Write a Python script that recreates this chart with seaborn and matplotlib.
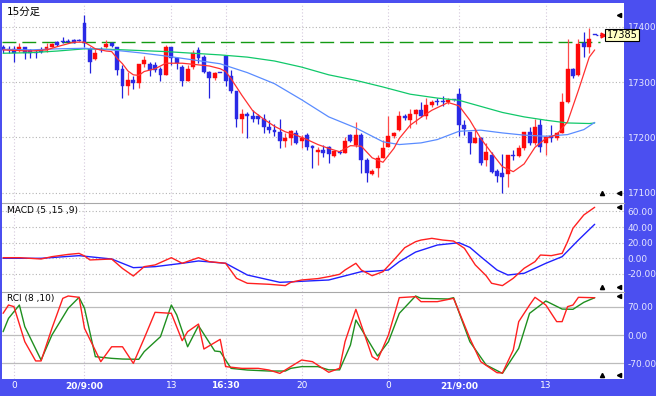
import matplotlib
matplotlib.use("Agg")
import numpy as np
import pandas as pd
import matplotlib.pyplot as plt
import seaborn as sns

# ---- 15分足 OHLC (bar index 0..109) ----
opens = [17363, 17360, 17359, 17358, 17363, 17357, 17355, 17358, 17357, 17363,
         17372, 17375, 17375, 17376, 17375, 17407, 17360, 17341, 17360, 17363,
         17370, 17363, 17323, 17293, 17304, 17298, 17333, 17333, 17330, 17323,
         17313, 17363, 17343, 17327, 17302, 17328, 17358, 17346, 17318, 17308,
         17317, 17347, 17310, 17283, 17233, 17243, 17239, 17238, 17233, 17218,
         17213, 17209, 17194, 17199, 17208, 17194, 17204, 17184, 17174, 17178,
         17183, 17167, 17174, 17172, 17204, 17186, 17204, 17159, 17134, 17144,
         17162, 17183, 17202, 17213, 17239, 17232, 17243, 17249, 17239, 17258,
         17265, 17266, 17263, 17267, 17278, 17223, 17209, 17189, 17198, 17159,
         17168, 17139, 17136, 17134, 17168, 17166, 17180, 17209, 17189, 17223,
         17189, 17202, 17199, 17208, 17264, 17323, 17313, 17371, 17363, 17385]
highs = [17367, 17365, 17365, 17371, 17364, 17359, 17358, 17363, 17370, 17371,
         17375, 17382, 17377, 17377, 17377, 17421, 17364, 17360, 17363, 17376,
         17373, 17363, 17331, 17319, 17310, 17333, 17347, 17337, 17337, 17328,
         17367, 17364, 17346, 17331, 17331, 17358, 17363, 17349, 17320, 17318,
         17317, 17349, 17322, 17284, 17252, 17245, 17249, 17243, 17243, 17231,
         17225, 17234, 17207, 17213, 17213, 17204, 17207, 17186, 17183, 17186,
         17184, 17177, 17177, 17201, 17206, 17228, 17207, 17162, 17142, 17168,
         17195, 17239, 17210, 17248, 17243, 17252, 17252, 17264, 17272, 17267,
         17272, 17275, 17272, 17268, 17289, 17231, 17210, 17216, 17201, 17189,
         17174, 17142, 17170, 17168, 17177, 17186, 17210, 17219, 17234, 17234,
         17204, 17222, 17210, 17280, 17377, 17325, 17377, 17391, 17397, 17385]
lows = [17352, 17352, 17337, 17355, 17341, 17343, 17343, 17352, 17355, 17363,
        17366, 17370, 17370, 17370, 17374, 17364, 17317, 17339, 17355, 17361,
        17364, 17313, 17272, 17277, 17287, 17289, 17327, 17310, 17318, 17302,
        17313, 17331, 17323, 17293, 17302, 17323, 17334, 17316, 17272, 17304,
        17317, 17293, 17280, 17218, 17208, 17198, 17228, 17224, 17207, 17207,
        17202, 17180, 17183, 17186, 17188, 17180, 17177, 17144, 17150, 17165,
        17153, 17165, 17170, 17172, 17192, 17183, 17135, 17120, 17132, 17129,
        17162, 17182, 17198, 17212, 17231, 17216, 17225, 17237, 17234, 17255,
        17258, 17257, 17260, 17266, 17202, 17204, 17170, 17189, 17150, 17149,
        17135, 17120, 17099, 17110, 17159, 17165, 17178, 17186, 17186, 17174,
        17169, 17192, 17195, 17207, 17262, 17307, 17310, 17346, 17352, 17385]
closes = [17357, 17357, 17353, 17363, 17353, 17353, 17352, 17354, 17363, 17369,
          17367, 17372, 17372, 17371, 17375, 17370, 17337, 17353, 17357, 17368,
          17366, 17322, 17293, 17304, 17299, 17333, 17339, 17322, 17322, 17313,
          17363, 17343, 17334, 17302, 17323, 17352, 17343, 17319, 17308, 17317,
          17317, 17302, 17283, 17233, 17243, 17239, 17233, 17234, 17218, 17213,
          17209, 17194, 17199, 17212, 17189, 17199, 17183, 17180, 17178, 17172,
          17170, 17176, 17171, 17194, 17194, 17204, 17159, 17135, 17140, 17162,
          17180, 17202, 17208, 17239, 17235, 17243, 17249, 17239, 17258, 17263,
          17263, 17264, 17267, 17267, 17222, 17215, 17189, 17199, 17153, 17174,
          17138, 17130, 17129, 17168, 17166, 17180, 17209, 17189, 17219, 17183,
          17201, 17199, 17208, 17263, 17323, 17311, 17369, 17363, 17377, 17385]

ref_price = 17372
last_price = 17385

# time axis
tick_idx = [2, 15, 31, 41, 55, 71, 84, 100]
tick_lab = ["0", "20/9:00", "13", "16:30", "20", "0", "21/9:00", "13"]
bold_lab = ["20/9:00", "16:30", "21/9:00"]

# moving averages (short / middle / long)
ma_s_idx = [0, 5, 8, 10, 13, 15, 17, 19, 20, 21, 22, 23, 24, 25, 26, 28, 30, 33, 36, 38,
            40, 41, 42, 44, 46, 48, 50, 52, 54, 56, 58, 60, 62, 64, 66, 68, 70, 72,
            73, 75, 77, 79, 82, 84, 86, 88, 90, 92, 94, 96, 98, 100, 102, 104, 106,
            108, 109]
ma_s_val = [17358, 17356, 17358, 17364, 17372, 17372, 17360, 17356, 17355, 17343,
            17333, 17320, 17313, 17312, 17319, 17324, 17334, 17334, 17331, 17329,
            17324, 17319, 17306, 17276, 17248, 17233, 17220, 17210, 17204, 17196,
            17187, 17180, 17174, 17185, 17184, 17163, 17155, 17180, 17198, 17222,
            17236, 17249, 17263, 17257, 17231, 17198, 17172, 17147, 17138, 17152,
            17182, 17198, 17205, 17228, 17285, 17345, 17358]
ma_m_idx = [0, 5, 10, 15, 20, 25, 30, 35, 40, 45, 50, 55, 60, 65, 70, 73, 77, 80,
            84, 88, 92, 96, 100, 104, 107, 109]
ma_m_val = [17359, 17358, 17360, 17361, 17358, 17353, 17347, 17340, 17333, 17317,
            17297, 17268, 17237, 17217, 17192, 17187, 17190, 17196, 17211, 17213,
            17208, 17204, 17202, 17205, 17214, 17227]
ma_l_idx = [0, 5, 10, 15, 20, 25, 30, 35, 40, 45, 50, 55, 60, 65, 70, 75, 80, 84,
            88, 92, 96, 100, 104, 108, 109]
ma_l_val = [17352, 17353, 17356, 17360, 17359, 17357, 17355, 17352, 17349, 17345,
            17338, 17327, 17313, 17303, 17291, 17278, 17271, 17267, 17256, 17245,
            17237, 17231, 17226, 17225, 17226]

# MACD (5,15,9)
macd_idx = [0, 3, 7, 9, 12, 14, 15, 16, 18, 20, 22, 24, 26, 28, 31, 33, 36, 38, 41,
            43, 45, 49, 52, 53, 55, 58, 60, 62, 63, 65, 66, 68, 70, 72, 74, 76, 77,
            79, 81, 83, 85, 87, 89, 90, 92, 94, 96, 98, 99, 101, 103, 104, 105, 107,
            109]
macd_val = [0.8, 0.8, -0.9, 2.1, 5.0, 6.3, 3.0, -2.1, -1.5, -0.9, -13, -22.7, -10.7,
            -8.5, 0.8, -6.4, 0.8, -4.3, -6.4, -25.6, -32, -33.3, -35, -30.8, -27.8,
            -26, -23.5, -20.5, -15, -6.4, -15, -22.3, -17.1, -2.1, 13.6, 21.3, 23.4,
            25.6, 23.4, 22.1, 12.8, -8.5, -22.3, -32, -35, -25.6, -12.8, -4.3, 4.2,
            3.4, 6.3, 21.3, 38.5, 55.6, 65.4]
sig_idx = [0, 7, 14, 20, 24, 28, 33, 36, 41, 45, 51, 60, 66, 68, 71, 73, 76, 80,
           84, 86, 88, 91, 93, 96, 100, 103, 106, 109]
sig_val = [0, 0, 3.4, -0.9, -12, -10.7, -6.4, -3.4, -6.4, -21.4, -30.8, -27.8,
           -17.1, -16.7, -15, -4.3, 8.0, 17, 20, 14, 2.1, -15, -21.4, -19.2, -6.4,
           2.1, 23.4, 43.6]

# RCI (8,10)
rci_s_idx = [0, 1, 2, 4, 6, 7, 9, 11, 12, 14, 15, 18, 20, 22, 24, 26, 28, 31, 33,
             34, 36, 37, 40, 41, 44, 47, 49, 51, 53, 55, 57, 60, 62, 63, 65, 68, 69,
             71, 73, 76, 77, 80, 83, 86, 88, 91, 92, 94, 95, 97, 98, 100, 102, 103,
             104, 105, 106, 109]
rci_s_val = [53.5, 74, 70, -16.5, -64, -64, 16.5, 90.5, 96.3, 93, 16.5, -65.8, -29,
             -29, -70, -8.2, 56, 53.5, -14, 8.2, 27, -34.6, -10.7, -78, -82.3, -82.3,
             -86.4, -94.7, -78, -61.7, -65.8, -92, -82, -16.5, 63.4, -53.5, -61.7, 0,
             92.2, 94.7, 82.3, 82.3, 90.5, -8.2, -65.8, -93, -93.8, -37, 32.9, 74,
             93, 74, 33, 33, 70, 74, 93, 92]
rci_l_idx = [0, 1, 3, 4, 7, 9, 12, 14, 15, 17, 20, 22, 25, 26, 29, 31, 32, 34, 36,
             39, 40, 42, 45, 49, 52, 53, 55, 58, 60, 62, 64, 65, 69, 71, 73, 76, 77,
             82, 83, 86, 89, 92, 95, 97, 100, 103, 105, 107, 108, 109]
rci_l_val = [8.2, 41, 74, 20.6, -61.7, 0, 66, 93, 66, -53.5, -57.6, -59.3, -60, -41,
             -4.1, 74, 49.4, -29, 23, -39.5, -41, -82.3, -86.4, -88.9, -88.9, -82.3,
             -78, -78, -86, -86, -24.7, 37, -52, -16.5, 53.5, 96.3, 90.5, 88.9, 92.2,
             -16.5, -74, -94.7, -33, 53.5, 84, 64, 63.4, 80.7, 86.4, 92]

# ---- style ----
sns.set_style("white")
plt.rcParams['font.family'] = ['DejaVu Sans', 'Noto Sans CJK JP']

frame_blue = '#4b4ff0'
axis_txt = '#e6e6ff'
dot = (0, (1, 2))

fig = plt.figure(figsize=(6.56, 3.96), dpi=100, facecolor=frame_blue)
left, width = 2 / 656, 622 / 656
ax_p = fig.add_axes([left, 0.4866, width, 0.5058])
ax_m = fig.add_axes([left, 0.2634, width, 0.2232], sharex=ax_p)
ax_r = fig.add_axes([left, 0.0429, width, 0.2205], sharex=ax_p)

for ax in (ax_p, ax_m, ax_r):
    ax.set_facecolor('white')
    for s in ax.spines.values():
        s.set_visible(False)
    ax.yaxis.tick_right()
    ax.tick_params(axis='y', length=0, pad=2.5, labelsize=6.5, labelcolor=axis_txt)
    ax.tick_params(axis='x', length=0, labelbottom=False)
    for t in tick_idx:
        ax.axvline(t, color='#d4c8dc', lw=0.8, ls=dot, zorder=0)
for ax in (ax_m, ax_r):
    ax.spines['top'].set_visible(True)
    ax.spines['top'].set_color('#a8a8a8')
    ax.spines['top'].set_linewidth(0.8)

ax_p.set_xlim(-0.2, 114.4)

# ---- price panel ----
df = pd.DataFrame({'o': opens, 'h': highs, 'l': lows, 'c': closes})
df['i'] = np.arange(len(df))
up = df['c'] > df['o']
body_col = np.where(up, '#ff0a0a', '#2a2ae6')
wick_col = np.where(up, '#ff4a4a', '#2222dd')
body_lo = np.minimum(df['o'], df['c'])
body_h = np.maximum((df['c'] - df['o']).abs(), 1.8)

for p in [17100, 17200, 17300, 17400]:
    ax_p.axhline(p, color='#b4b4b4', lw=0.8, ls=dot, zorder=0)
ax_p.axhline(ref_price, xmin=0, xmax=0.962, color='#149a14', lw=1.0,
             ls=(0, (10, 4.3)), zorder=1)

ax_p.vlines(df['i'], df['l'], df['h'], colors=wick_col, lw=0.9, zorder=2)
ax_p.bar(df['i'], body_h, bottom=body_lo, width=0.72, color=body_col,
         edgecolor=body_col, linewidth=0.3, zorder=3)

sns.lineplot(x=ma_l_idx, y=ma_l_val, ax=ax_p, color='#10c86a', lw=0.9, zorder=4)
sns.lineplot(x=ma_m_idx, y=ma_m_val, ax=ax_p, color='#5a8cff', lw=0.9, zorder=4)
sns.lineplot(x=ma_s_idx, y=ma_s_val, ax=ax_p, color='#ff3030', lw=0.9, zorder=5)

ax_p.set_ylim(17080.8, 17442.8)
ax_p.set_yticks([17100, 17200, 17300, 17400])
ax_p.set_yticklabels(['17100', '17200', '17300', '17400'])

# last price marker and box
ax_p.plot([109.3, 110.1], [last_price, last_price], color='#2222dd', lw=0.9,
          ls=(0, (1.5, 1.2)), zorder=5)
ax_p.plot([110.6], [last_price], marker='>', color='#ff1010', ms=3.5, zorder=6,
          clip_on=False)
ax_p.text(111.2, last_price, str(last_price), fontsize=7, color='black',
          va='center', ha='left', zorder=7, clip_on=False,
          bbox=dict(boxstyle='square,pad=0.12', fc='#ffffc4', ec='black', lw=0.8))

# ---- MACD panel ----
for v in [-20, 0, 20, 40, 60]:
    ax_m.axhline(v, color='#b4b4b4', lw=0.8, ls=dot, zorder=0)
sns.lineplot(x=sig_idx, y=sig_val, ax=ax_m, color='#2020ff', lw=1.0)
sns.lineplot(x=macd_idx, y=macd_val, ax=ax_m, color='#ff2020', lw=1.0)
ax_m.set_ylim(-42.8, 70.5)
ax_m.set_yticks([-20, 0, 20, 40, 60])
ax_m.set_yticklabels(['-20.00', '0.00', '20.00', '40.00', '60.00'])

# ---- RCI panel ----
for v in [-70, 0, 70]:
    ax_r.axhline(v, color='#bcbcbc', lw=0.9, zorder=0)
sns.lineplot(x=rci_l_idx, y=rci_l_val, ax=ax_r, color='#1f8f1f', lw=1.0)
sns.lineplot(x=rci_s_idx, y=rci_s_val, ax=ax_r, color='#ff2020', lw=1.0)
ax_r.set_ylim(-108.6, 106.9)
ax_r.set_yticks([-70, 0, 70])
ax_r.set_yticklabels(['-70.00', '0.00', '70.00'])

ax_r.set_xticks(tick_idx)
ax_r.set_xticklabels(tick_lab)
ax_r.tick_params(axis='x', labelbottom=True, length=3, direction='in',
                 color='#c8c8c8', pad=1.5, labelsize=6.5, labelcolor='white')
for lab in ax_r.get_xticklabels():
    if lab.get_text() in bold_lab:
        lab.set_fontweight('bold')

for ax in (ax_p, ax_m, ax_r):
    ax.set_xlabel('')
    ax.set_ylabel('')

# small scroll triangles
for ax, ytop, ybot in [(ax_p, 0.94, 0.053), (ax_m, 0.958, 0.053), (ax_r, 0.951, 0.046)]:
    ax.plot([0.992], [ytop], marker='<', color='black', ms=3, transform=ax.transAxes,
            clip_on=False, zorder=8)
    ax.plot([0.992], [ybot], marker='<', color='black', ms=3, transform=ax.transAxes,
            clip_on=False, zorder=8)
    ax.plot([0.965], [ybot], marker='^', color='black', ms=3, transform=ax.transAxes,
            clip_on=False, zorder=8)

# panel captions
fig.text(7 / 656, 1 - 12 / 396, '15分足', fontsize=7.5, color='black', va='center')
fig.text(7 / 656, 1 - 210 / 396, 'MACD (5 ,15 ,9)', fontsize=6.5, color='black', va='center')
fig.text(7 / 656, 1 - 298 / 396, 'RCI (8 ,10)', fontsize=6.5, color='black', va='center')

fig.savefig('out.png', dpi=100, facecolor=frame_blue)
